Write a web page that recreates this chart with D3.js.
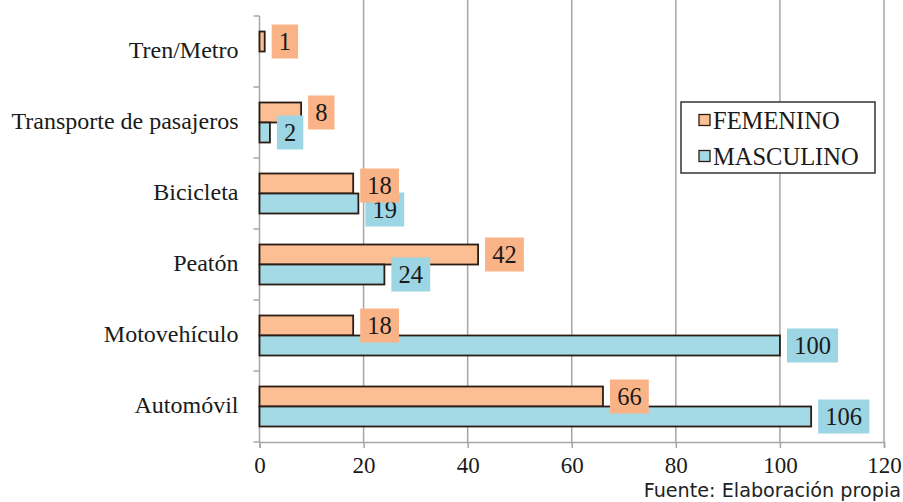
<!DOCTYPE html>
<html>
<head>
<meta charset="utf-8">
<script src="https://cdn.jsdelivr.net/npm/d3@7/dist/d3.min.js"></script>
<style>
  html, body { margin: 0; padding: 0; background: #fff; }
  svg { display: block; }
</style>
</head>
<body>
<svg id="chart" width="903" height="502"></svg>
<script>
// Víctimas por medio de transporte y sexo
const categories = ["Tren/Metro", "Transporte de pasajeros", "Bicicleta", "Peatón", "Motovehículo", "Automóvil"];
const series = ["FEMENINO", "MASCULINO"];
const femenino = [1, 8, 18, 42, 18, 66];
const masculino = [null, 2, 19, 24, 100, 106];
const xTicks = [0, 20, 40, 60, 80, 100, 120];
const source = "Fuente: Elaboración propia";

const SERIF = "'Liberation Serif', Tinos, 'Times New Roman', Times, serif";
const colors = {
  FEMENINO: { bar: "#fbbf93", label: "#fab386" },
  MASCULINO: { bar: "#a3dae6", label: "#9cd5e3" }
};

const svg = d3.select("#chart");
const plot = { left: 259.5, right: 884, top: 16, bottom: 442 };

const x = d3.scaleLinear().domain([0, 120]).range([plot.left, plot.right]);
const y = d3.scaleBand().domain(categories).range([plot.top, plot.bottom]);
const sub = d3.scaleBand().domain(series).range([0, y.bandwidth()]).paddingOuter(0.775);

const rows = categories.map((c, i) => ({
  category: c,
  values: [
    { key: "FEMENINO", value: femenino[i] },
    { key: "MASCULINO", value: masculino[i] }
  ].filter(d => d.value != null)
}));

function serifText(sel, size) {
  return sel.style("font-family", SERIF).style("font-size", size + "px").attr("fill", "#1a1a1a");
}

// vertical gridlines
svg.append("g")
  .selectAll("line")
  .data(xTicks.filter(t => t > 0))
  .join("line")
  .attr("x1", d => x(d)).attr("x2", d => x(d))
  .attr("y1", plot.top - 16).attr("y2", plot.bottom)
  .attr("stroke", "#a6a6a6").attr("stroke-width", 1.5);

// x axis
const xAxis = svg.append("g")
  .attr("transform", `translate(0,${plot.bottom})`)
  .call(d3.axisBottom(x).tickValues(xTicks).tickSize(6).tickPadding(9));
xAxis.attr("font-family", null).attr("font-size", null);
xAxis.select(".domain").attr("stroke", "#a6a6a6").attr("stroke-width", 1.5);
xAxis.selectAll(".tick line").attr("stroke", "#a6a6a6").attr("stroke-width", 1.5);
serifText(xAxis.selectAll(".tick text"), 23);

// y axis with ticks between categories
const yAxis = svg.append("g").attr("transform", `translate(${plot.left},0)`);
yAxis.append("line")
  .attr("x1", 0).attr("x2", 0)
  .attr("y1", plot.top).attr("y2", plot.bottom)
  .attr("stroke", "#a6a6a6").attr("stroke-width", 1.5);
yAxis.selectAll("line.sep")
  .data(categories.map(c => y(c)).concat([plot.bottom]))
  .join("line")
  .attr("class", "sep")
  .attr("x1", -6).attr("x2", 0)
  .attr("y1", d => d).attr("y2", d => d)
  .attr("stroke", "#a6a6a6").attr("stroke-width", 1.5);
serifText(yAxis.selectAll("text")
  .data(categories)
  .join("text")
  .attr("x", -21)
  .attr("y", d => y(d) + y.bandwidth() / 2)
  .attr("dy", "0.25em")
  .attr("text-anchor", "end")
  .text(d => d), 24);

// bars
const groups = svg.append("g")
  .selectAll("g")
  .data(rows)
  .join("g")
  .attr("transform", d => `translate(0,${y(d.category)})`);

groups.selectAll("rect")
  .data(d => d.values)
  .join("rect")
  .attr("x", x(0))
  .attr("y", d => sub(d.key))
  .attr("width", d => x(d.value) - x(0))
  .attr("height", sub.bandwidth())
  .attr("fill", d => colors[d.key].bar)
  .attr("stroke", "#2b1d14")
  .attr("stroke-width", 1.8);

// value labels in coloured boxes, nudged apart when they collide
const labelLayer = svg.append("g");
const boxH = 34, padX = 7, gap = 7;
rows.forEach(r => {
  const items = r.values.map(d => {
    const w = String(d.value).length * 12.4 + 2 * padX;
    return {
      key: d.key, value: d.value,
      x0: x(d.value) + gap, w,
      cy: y(r.category) + sub(d.key) + sub.bandwidth() / 2
    };
  });
  if (items.length === 2) {
    const [a, b] = items;
    const overlapX = a.x0 < b.x0 + b.w && b.x0 < a.x0 + a.w;
    if (overlapX) { a.cy += 2; b.cy += 6; }
  }
  // masculine first so the feminine box sits above it
  items.slice().reverse().forEach(it => {
    labelLayer.append("rect")
      .attr("x", it.x0).attr("y", it.cy - boxH / 2)
      .attr("width", it.w).attr("height", boxH)
      .attr("fill", colors[it.key].label);
    serifText(labelLayer.append("text")
      .attr("x", it.x0 + it.w / 2)
      .attr("y", it.cy)
      .attr("dy", "0.35em")
      .attr("text-anchor", "middle")
      .text(it.value), 24.5);
  });
});

// legend
const legend = svg.append("g").attr("transform", "translate(681,102)");
legend.append("rect")
  .attr("width", 194).attr("height", 71)
  .attr("fill", "#fff").attr("stroke", "#333").attr("stroke-width", 1.5);
series.forEach((s, i) => {
  const ly = 18 + i * 36;
  legend.append("rect")
    .attr("x", 18).attr("y", ly - 5.5)
    .attr("width", 11).attr("height", 11)
    .attr("fill", colors[s].bar).attr("stroke", "#2b1d14").attr("stroke-width", 1.3);
  serifText(legend.append("text")
    .attr("x", 32).attr("y", ly)
    .attr("dy", "0.36em")
    .text(s), 24.5);
});

// source note
svg.append("text")
  .attr("x", 901).attr("y", 497)
  .attr("text-anchor", "end")
  .style("font-family", "'DejaVu Sans', Verdana, sans-serif")
  .style("font-size", "19.2px")
  .attr("fill", "#222")
  .text(source);
</script>
</body>
</html>
